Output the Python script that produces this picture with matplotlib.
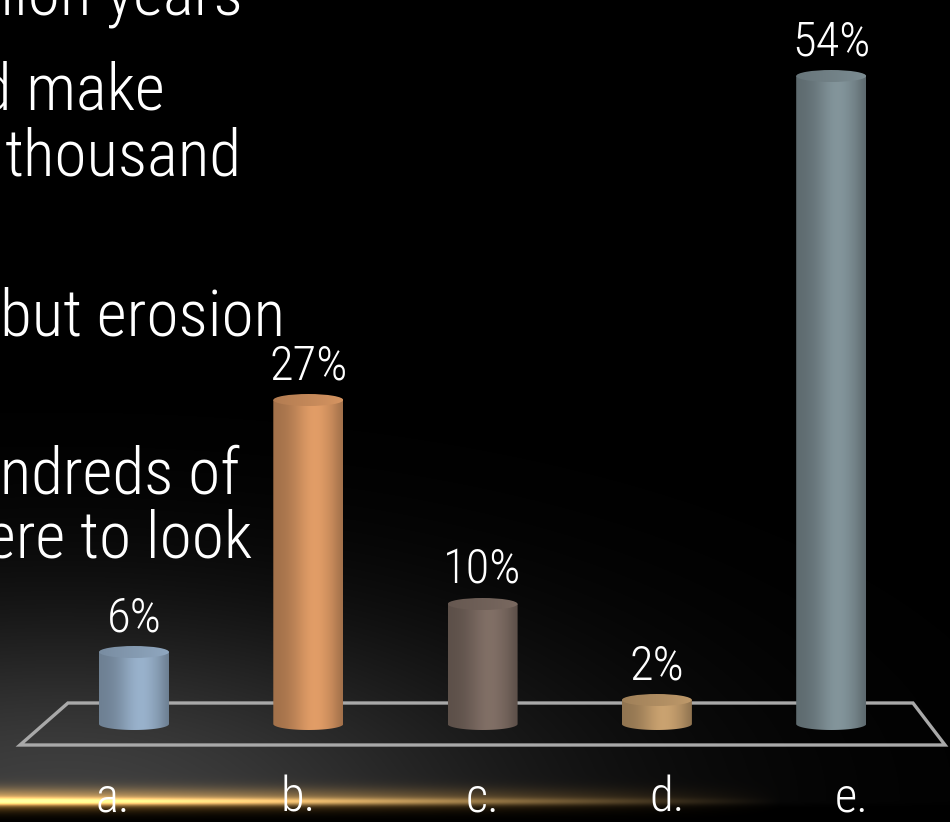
import numpy as np
import matplotlib
matplotlib.use("Agg")
import matplotlib.pyplot as plt
from matplotlib import font_manager
from matplotlib.patches import PathPatch, Ellipse, Polygon
from matplotlib.path import Path
from matplotlib.colors import to_rgb

# ---------------- data ----------------
categories = ["a.", "b.", "c.", "d.", "e."]
values = [6, 27, 10, 2, 54]
value_labels = ["6%", "27%", "10%", "2%", "54%"]
bar_colors = ["#93abc4", "#d99763", "#7c6b62", "#c29c6c", "#7e8f95"]
background_lines = ["billion years", "could make", "thousand", "but erosion",
                    "hundreds of", "where to look"]

# ---------------- fonts ----------------
available = {f.name for f in font_manager.fontManager.ttflist}
FONT = next((f for f in ["Liberation Sans Narrow", "Roboto Condensed", "Liberation Sans"]
             if f in available), "DejaVu Sans")
WEIGHT = "light"

# ---------------- layout (pixel geometry) ----------------
W, H = 950, 822
X0PX, DXPX = 134.0, 174.3      # first bar centre, spacing in px
BASEPX, PPU = 724.0, 12.0      # baseline px, px per percent unit

fig = plt.figure(figsize=(W / 100, H / 100), dpi=100)
fig.patch.set_facecolor("black")
ax = fig.add_axes([0, 0, 1, 1])
ax.set_axis_off()
ax.set_facecolor("black")

xlim = (-X0PX / DXPX, (W - X0PX) / DXPX)
ylim = ((BASEPX - H) / PPU, BASEPX / PPU)

# ---------------- background ----------------
yy, xx = np.mgrid[0:H, 0:W].astype(float)
glow = 0.25 * np.exp(-(((xx - 60) / 480) ** 2 + ((yy - 800) / 190) ** 2))
glow = np.where(yy > 800, glow * np.exp(-((yy - 800) / 5.0) ** 2), glow)
hfade = np.clip(1 - xx / 780.0, 0, 1) ** 1.0
core = np.exp(-((yy - 801) / 3.6) ** 2) * hfade
halo = np.exp(-((yy - 799) / 11.0) ** 2) * hfade
bg = np.zeros((H, W, 3))
bg += glow[..., None] * np.array([1.0, 1.0, 1.0])
bg += halo[..., None] * np.array([0.58, 0.40, 0.13])
bg += core[..., None] * np.array([0.70, 0.55, 0.30])
bg = np.clip(bg, 0, 1)
ax.imshow(bg, extent=[0, 1, 0, 1], transform=ax.transAxes, origin="upper",
          aspect="auto", zorder=0, interpolation="bilinear")

# ---------------- overlaid slide text (behind chart) ----------------
text_right = [243, 165, 242, 285, 240, 252]
text_base = [15, 110, 175, 335, 493, 558]
for s, xr, yb in zip(background_lines, text_right, text_base):
    fig.text(xr / W, 1 - yb / H, s, ha="right", va="baseline", color="white",
             fontsize=47, family=FONT, fontweight=WEIGHT, zorder=1)

# ---------------- floor ----------------
n = len(values)
floor = Polygon([(-0.379, 1.75), (n - 1 + 0.469, 1.75),
                 (n - 1 + 0.653, -1.75), (-0.654, -1.75)],
                closed=True, fill=False, edgecolor="#a9a9a9", lw=2.4, zorder=2)
ax.add_patch(floor)

# ---------------- cylinders ----------------
BW = 70.0 / DXPX   # bar width in category units
EH = 1.0           # ellipse height in value units
t = np.linspace(0, 1, 200)
s_body = 0.74 + 0.30 * np.exp(-((t - 0.6) / 0.32) ** 2) - 0.06 * np.clip((t - 0.85) / 0.15, 0, 1)
s_top = 0.82 + 0.16 * t

for i, (v, col) in enumerate(zip(values, bar_colors)):
    c = i
    x0, x1 = c - BW / 2, c + BW / 2
    base = np.array(to_rgb(col))
    body_img = np.clip(base[None, None, :] * s_body[None, :, None], 0, 1)
    body_img = np.repeat(body_img, 2, axis=0)
    th = np.linspace(np.pi, 2 * np.pi, 60)
    verts = [(x0, v), (x0, 0)] + [(c + BW / 2 * np.cos(a), EH / 2 * np.sin(a)) for a in th] + [(x1, v), (x0, v)]
    path = Path(verts, closed=True)
    clip = PathPatch(path, facecolor="none", edgecolor="none", transform=ax.transData)
    ax.add_patch(clip)
    im = ax.imshow(body_img, extent=[x0, x1, -EH / 2, v], aspect="auto", zorder=3,
                   interpolation="bilinear")
    im.set_clip_path(clip)

    top_img = np.clip(base[None, None, :] * s_top[None, :, None], 0, 1)
    top_img = np.repeat(top_img, 2, axis=0)
    ell = Ellipse((c, v), BW, EH, facecolor="none", edgecolor="none", transform=ax.transData)
    ax.add_patch(ell)
    im2 = ax.imshow(top_img, extent=[x0, x1, v - EH / 2, v + EH / 2], aspect="auto",
                    zorder=4, interpolation="bilinear")
    im2.set_clip_path(ell)

    ax.text(c, v + EH / 2 + 1.2, value_labels[i], ha="center", va="baseline",
            color="white", fontsize=35, family=FONT, fontweight=WEIGHT, zorder=5)

# category labels (perspective spread)
for i, lab in enumerate(categories):
    xc = (n - 1) / 2 + (i - (n - 1) / 2) * 1.06
    ax.text(xc, (BASEPX - 821) / PPU, lab, ha="center", va="bottom",
            color="white", fontsize=35, family=FONT, fontweight=WEIGHT, zorder=5)

ax.set_xlim(*xlim)
ax.set_ylim(*ylim)
fig.savefig("out.png", dpi=100, facecolor="black")
